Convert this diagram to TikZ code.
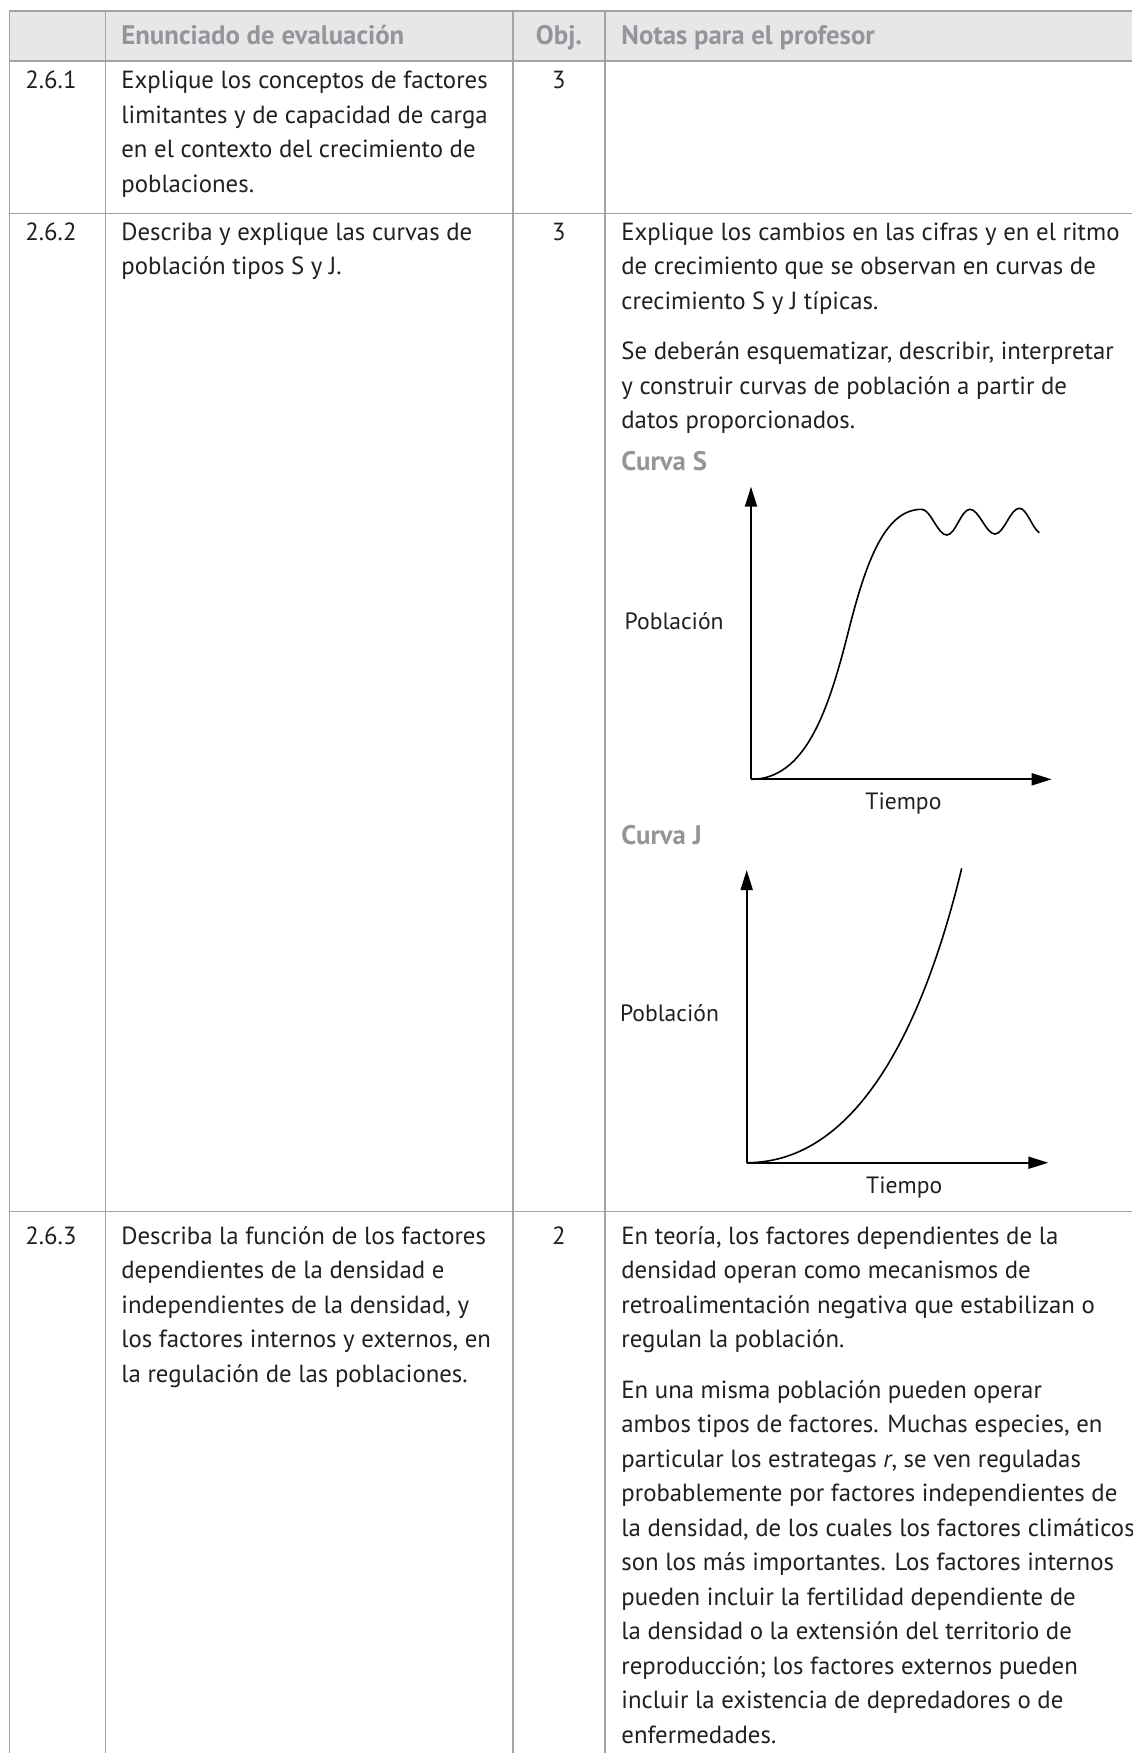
\documentclass[tikz,border=0pt]{standalone}
\usepackage{fontspec}
\setmainfont{PT Sans}
\usetikzlibrary{arrows.meta}
\definecolor{rulecol}{HTML}{A3A3A3}
\definecolor{headfill}{HTML}{E6E7E8}
\definecolor{headtext}{HTML}{939598}
\definecolor{ink}{HTML}{231F20}
\newcommand{\bodyfont}{\fontsize{12.4}{17.25}\selectfont}
\newcommand{\headfont}{\fontsize{13.4}{17.25}\selectfont\bfseries}
\newcommand{\labfont}{\fontsize{11.8}{17.25}\selectfont}
\begin{document}
\begin{tikzpicture}[x=0.5pt,y=-0.5pt,
  tline/.style={draw=rulecol,line width=0.75pt},
  cell/.style={anchor=north west,inner sep=0pt,align=left,font=\bodyfont,text=ink},
  objcell/.style={anchor=base,inner sep=0pt,font=\bodyfont,text=ink},
  headcell/.style={inner sep=0pt,font=\headfont,text=headtext},
  graphtitle/.style={anchor=base west,inner sep=0pt,font=\headfont,text=headtext},
  axlabel/.style={inner sep=0pt,font=\labfont,text=ink},
  axis/.style={draw=black,line width=0.9pt,-{Triangle[length=10pt,width=6pt]}},
  curve/.style={draw=black,line width=0.8pt}]
\useasboundingbox (0,0) rectangle (1132,1753);
\fill[white] (0,0) rectangle (1132,1753);
% header band
\fill[headfill] (9.3,11) rectangle (1132,61);
% table rules
\draw[tline] (9.3,11) -- (1132,11);
\draw[tline] (9.3,61) -- (1132,61);
\draw[tline] (9.3,213.3) -- (1132,213.3);
\draw[tline] (9.3,1211.7) -- (1132,1211.7);
\draw[tline] (9.3,11) -- (9.3,1753);
\draw[tline] (105.7,11) -- (105.7,1753);
\draw[tline] (513,11) -- (513,1753);
\draw[tline] (605,11) -- (605,1753);
% header
\node[headcell,anchor=base west] (h1) at (121,44.5) {Enunciado de evaluación};
\node[headcell,anchor=base] (h2) at (559,44.5) {Obj.};
\node[headcell,anchor=base west] (h3) at (621,44.5) {Notas para el profesor};
% row 1
\node[cell] (n1) at (25,64.35) {\strut 2.6.1};
\node[cell] (e1) at (121,64.35) {\strut Explique los conceptos de factores\\limitantes y de capacidad de carga\\en el contexto del crecimiento de\\poblaciones.};
\node[objcell] (o1) at (559,88.5) {3};
% row 2
\node[cell] (n2) at (25,215.85) {\strut 2.6.2};
\node[cell] (e2) at (121,215.85) {\strut Describa y explique las curvas de\\población tipos S y J.};
\node[objcell] (o2) at (559,240) {3};
\node[cell] (t2) at (621,215.85) {\strut Explique los cambios en las cifras y en el ritmo\\de crecimiento que se observan en curvas de\\crecimiento S y J típicas.\\[8pt]Se deberán esquematizar, describir, interpretar\\y construir curvas de población a partir de\\datos proporcionados.};
% Curva S
\node[graphtitle] (cs) at (621,470) {Curva S};
\coordinate (sO) at (751,779.3);
\coordinate (sY) at (751,486.7);
\coordinate (sX) at (1051.7,779.3);
\draw[axis] (sO) -- (sY);
\draw[axis] (sO) -- (sX);
\draw[curve] (sO) .. controls (805,779.3) and (828,712) .. (848,633)
  .. controls (866,561) and (885,509.3) .. (921.7,509.3)
  .. controls (930.7,509.3) and (937.7,535) .. (946.7,535)
  .. controls (955.7,535) and (961,509.3) .. (970,509.3)
  .. controls (979,509.3) and (986,534) .. (995,534)
  .. controls (1004,534) and (1010.3,508.3) .. (1019.3,508.3)
  .. controls (1027,508.3) and (1032,528) .. (1039.3,532.7);
\node[axlabel,anchor=base east] (sp) at (724,629) {Población};
\node[axlabel,anchor=base] (st) at (903.4,809) {Tiempo};
% Curva J
\node[graphtitle] (cj) at (621,844) {Curva J};
\coordinate (jO) at (746.7,1162.7);
\coordinate (jY) at (746.7,870);
\coordinate (jX) at (1048.3,1162.7);
\coordinate (jE) at (961.7,868.3);
\draw[axis] (jO) -- (jY);
\draw[axis] (jO) -- (jX);
\draw[curve] (jO) .. controls (860,1162.7) and (925,1020) .. (jE);
\node[axlabel,anchor=base east] (jp) at (719.3,1021) {Población};
\node[axlabel,anchor=base] (jt) at (904.2,1193) {Tiempo};
% row 3
\node[cell] (n3) at (25,1219.85) {\strut 2.6.3};
\node[cell] (e3) at (121,1219.85) {\strut Describa la función de los factores\\dependientes de la densidad e\\independientes de la densidad, y\\los factores internos y externos, en\\la regulación de las poblaciones.};
\node[objcell] (o3) at (559,1244) {2};
\node[cell] (t3) at (621,1219.85) {\strut En teoría, los factores dependientes de la\\densidad operan como mecanismos de\\retroalimentación negativa que estabilizan o\\regulan la población.\\[8pt]En una misma población pueden operar\\ambos tipos de factores. Muchas especies, en\\particular los estrategas \textit{r}, se ven reguladas\\probablemente por factores independientes de\\la densidad, de los cuales los factores climáticos\\son los más importantes. Los factores internos\\pueden incluir la fertilidad dependiente de\\la densidad o la extensión del territorio de\\reproducción; los factores externos pueden\\incluir la existencia de depredadores o de\\enfermedades.};
\end{tikzpicture}
\end{document}
